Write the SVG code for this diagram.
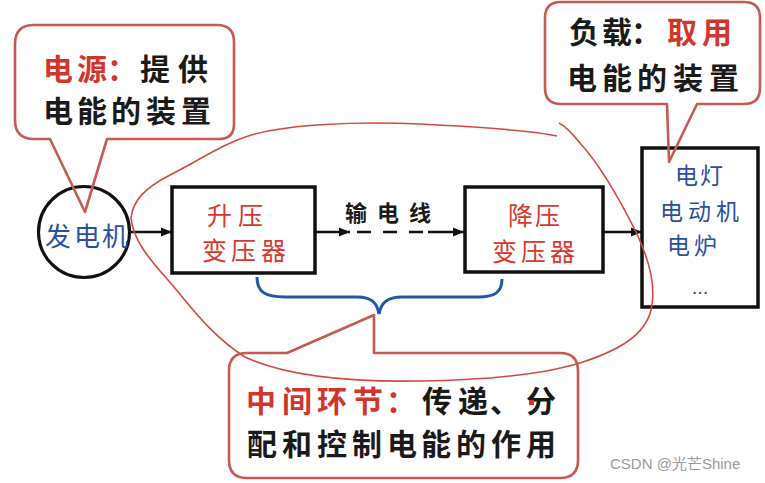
<svg xmlns="http://www.w3.org/2000/svg" width="765" height="483" viewBox="0 0 765 483">
<defs>
<style>
.callout{fill:none;stroke:#c65a52;stroke-width:2.6;stroke-linejoin:round}
.ct{font-family:"Noto Sans CJK SC","Noto Sans CJK JP",sans-serif;font-size:30px;font-weight:700;fill:#1a1a1a}
.red{fill:#d2352c}
.box{fill:#fff;stroke:#111;stroke-width:3.5}
.bt{font-family:"Noto Sans CJK SC","Noto Sans CJK JP",sans-serif;font-size:25px;fill:#d8392e}
.blue{font-family:"Noto Sans CJK SC","Noto Sans CJK JP",sans-serif;font-size:26px;fill:#2a4f9e}
.blue2{font-family:"Noto Sans CJK SC","Noto Sans CJK JP",sans-serif;font-size:23px;fill:#2a4f9e}
.line{stroke:#111;stroke-width:2.6;fill:none}
.loop{fill:none;stroke:#d24a40;stroke-width:1.6}
</style>
<marker id="ah" markerUnits="userSpaceOnUse" markerWidth="12" markerHeight="10" refX="11" refY="5" orient="auto">
<path d="M0,0.5 L11,5 L0,9.5 z" fill="#111"/>
</marker>
</defs>
<rect width="765" height="483" fill="#fff"/>

<g id="generator">
<circle cx="84" cy="232" r="45.5" fill="#fff" stroke="#111" stroke-width="3.2"/>
<text class="blue" y="246" x="45 74 102">发电机</text>
</g>

<g id="step-up">
<rect class="box" x="172" y="187" width="143" height="86"/>
<text class="bt" y="225" x="207 238">升压</text>
<text class="bt" y="260" x="202 231 261">变压器</text>
</g>

<g id="step-down">
<rect class="box" x="465" y="187" width="138" height="85"/>
<text class="bt" y="225" x="508 535">降压</text>
<text class="bt" y="261" x="492 521 550">变压器</text>
</g>

<g id="loads">
<rect class="box" x="642" y="148" width="116" height="159"/>
<text class="blue2" y="184" x="675 700">电灯</text>
<text class="blue2" y="220" x="660 688 716">电动机</text>
<text class="blue2" y="254" x="667 694">电炉</text>
<text x="700" y="294" text-anchor="middle" font-family="Liberation Sans, sans-serif" font-size="20" fill="#2a4f9e">...</text>
</g>

<g id="connectors">
<line class="line" x1="130" y1="232" x2="172" y2="232" marker-end="url(#ah)"/>
<line class="line" x1="315" y1="232" x2="350" y2="232" marker-end="url(#ah)"/>
<line class="line" x1="357" y1="232" x2="428" y2="232" stroke-dasharray="14,12"/>
<line class="line" x1="428" y1="232" x2="464" y2="232" marker-end="url(#ah)"/>
<line class="line" x1="603" y1="232" x2="642" y2="232" marker-end="url(#ah)"/>
<text y="221" x="345 377 409" font-family="Noto Sans CJK SC, sans-serif" font-size="22" font-weight="700" fill="#1a1a1a">输电线</text>
</g>

<g id="callout-source">
<path class="callout" d="M50,139 L85,212 L107,139 L219,139 Q234,139 234,124 L234,42 Q234,25 217,25 L34,25 Q15,25 15,44 L15,120 Q15,139 34,139 Z"/>
<text class="ct" y="80"><tspan class="red" x="43 77 107">电源：</tspan><tspan x="140 178">提供</tspan></text>
<text class="ct" y="122" x="43 77 111 146 181">电能的装置</text>
</g>

<g id="callout-load">
<path class="callout" d="M667,104 L669,162 L697,104 L744,104 Q760,104 760,88 L760,18 Q760,2 744,2 L561,2 Q545,2 545,18 L545,88 Q545,104 561,104 Z"/>
<text class="ct" y="43"><tspan x="569 602 631">负载：</tspan><tspan class="red" x="667 702">取用</tspan></text>
<text class="ct" y="89" x="567 602 637 673 709">电能的装置</text>
</g>

<g id="callout-middle">
<path class="callout" d="M287,353 L374,315 L374,353 L560,353 Q578,353 578,371 L578,460 Q578,478 560,478 L247,478 Q229,478 229,460 L229,371 Q229,353 247,353 Z"/>
<text class="ct" y="412"><tspan class="red" x="246 282 317 353 386">中间环节：</tspan><tspan x="422 458 490 526">传递、分</tspan></text>
<rect x="529" y="400" width="5" height="5" fill="#d2352c"/>
<text class="ct" y="455" x="247 282 317 352 387 421 456 491 526">配和控制电能的作用</text>
</g>

<g id="brace">
<path d="M257,277 C257,292 265,297 285,297 L357,297 C372,297 377,303 379,314 C381,303 387,297 402,297 L478,297 C495,297 502,292 502,279" fill="none" stroke="#2356a8" stroke-width="3"/>
</g>

<g id="loop">
<path class="loop" d="M557,136 C530,130 480,127 420,124 C350,121 290,125 255,134 C225,142 200,160 170,175 C145,188 133,200 131,218 C133,240 150,260 168,280 C190,305 210,335 245,357 C290,378 360,382 420,381 C490,380 540,375 580,363 C620,350 645,335 651,310 C657,285 647,255 636,232 C620,200 600,165 580,143 C572,133 565,126 559,123"/>
</g>

<text x="610" y="469" font-family="Liberation Sans, Noto Sans CJK SC, sans-serif" font-size="15" fill="#9a9a9a">CSDN @光芒Shine</text>
</svg>
